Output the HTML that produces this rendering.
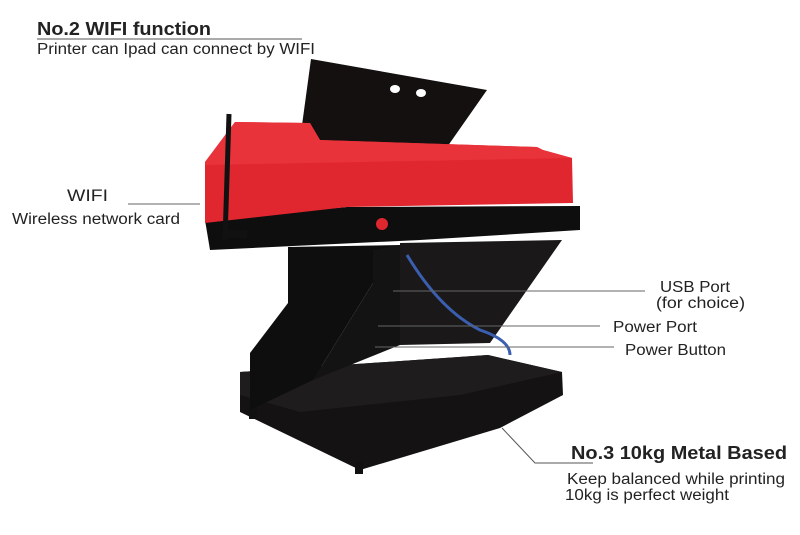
<!DOCTYPE html>
<html><head><style>
body{margin:0;background:#fff;}
svg{display:block;}
text{font-family:"Liberation Sans",Arial,sans-serif;fill:#222;}
</style></head><body>
<svg width="800" height="535" viewBox="0 0 800 535">
<text x="37" y="35" font-size="18" font-weight="bold" fill="#333" textLength="174" lengthAdjust="spacingAndGlyphs">No.2 WIFI function</text>
<line x1="37" y1="39" x2="302" y2="39" stroke="#555" stroke-width="1"/>
<text x="37" y="54" font-size="15.5" textLength="278" lengthAdjust="spacingAndGlyphs">Printer can Ipad can connect by WIFI</text>
<!-- lid -->
<polygon points="311,59 487,90 445,150 300,140" fill="#151010"/>
<ellipse cx="395" cy="89" rx="5" ry="4" fill="#fff"/>
<ellipse cx="421" cy="93" rx="5" ry="4" fill="#fff"/>
<!-- base -->
<polygon points="240,372 488,355 562,372 563,395 500,428 360,470 240,412" fill="#141212"/>
<polygon points="240,372 488,355 562,372 460,395 300,412 240,395" fill="#1e1c1c"/>
<rect x="249" y="405" width="8" height="14" fill="#111"/>
<rect x="355" y="462" width="8" height="12" fill="#111"/>
<!-- stand -->
<polygon points="400,243 562,240 490,343 400,345" fill="#1a1818"/>
<polygon points="288,247 400,245 373,283 313,380 250,410 250,353 288,303" fill="#0f0e0e"/>
<polygon points="373,250 400,245 400,345 313,380 373,283" fill="#141313"/>
<!-- cable -->
<path d="M407,255 Q440,310 480,330 Q510,340 510,355" stroke="#3a5fb0" stroke-width="3" fill="none"/>
<!-- black band -->
<polygon points="205,220 347,207 580,206 580,230 420,240 210,250" fill="#0e0e0e"/>
<!-- red body -->
<polygon points="205,162 235,122 310,123 320,140 537,147 543,150 572,158 573,203 347,207 205,223" fill="#e0262f"/>
<polygon points="205,162 235,122 310,123 320,140 537,147 543,150 572,158 205,165" fill="#e8333b"/>
<circle cx="382" cy="224" r="6" fill="#e0262f"/>
<!-- antenna -->
<line x1="229" y1="114" x2="225" y2="240" stroke="#111" stroke-width="5"/>
<rect x="225" y="230" width="22" height="8" fill="#111"/>
<!-- leader lines -->
<line x1="128" y1="204" x2="200" y2="204" stroke="#666"/>
<line x1="393" y1="291" x2="645" y2="291" stroke="#666"/>
<line x1="378" y1="326" x2="600" y2="326" stroke="#666"/>
<line x1="375" y1="347" x2="614" y2="347" stroke="#666"/>
<polyline points="502,428 535,463 593,463" fill="none" stroke="#555"/>
<!-- labels -->
<text x="67" y="201" font-size="17" textLength="41" lengthAdjust="spacingAndGlyphs">WIFI</text>
<text x="12" y="224" font-size="15.5" textLength="168" lengthAdjust="spacingAndGlyphs">Wireless network card</text>
<text x="660" y="292" font-size="15.5" textLength="70" lengthAdjust="spacingAndGlyphs">USB Port</text>
<text x="656" y="308" font-size="15.5" textLength="89" lengthAdjust="spacingAndGlyphs">(for choice)</text>
<text x="613" y="332" font-size="15.5" textLength="84" lengthAdjust="spacingAndGlyphs">Power Port</text>
<text x="625" y="355" font-size="15.5" textLength="101" lengthAdjust="spacingAndGlyphs">Power Button</text>
<text x="571" y="459" font-size="18" font-weight="bold" fill="#333" textLength="216" lengthAdjust="spacingAndGlyphs">No.3 10kg Metal Based</text>
<text x="567" y="484" font-size="15.5" textLength="218" lengthAdjust="spacingAndGlyphs">Keep balanced while printing</text>
<text x="565" y="500" font-size="15.5" textLength="164" lengthAdjust="spacingAndGlyphs">10kg is perfect weight</text>
</svg>
</body></html>
